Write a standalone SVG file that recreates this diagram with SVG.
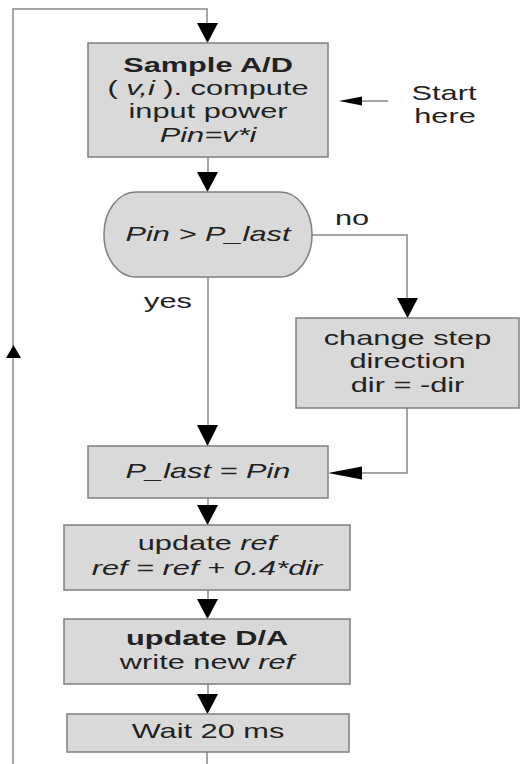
<svg xmlns="http://www.w3.org/2000/svg" width="520" height="764" viewBox="0 0 520 764">
<style>
.box{fill:#d9d9d9;stroke:#7f7f7f;stroke-width:1.5}
.ln{fill:none;stroke:#a6a6a6;stroke-width:2}
.ah{fill:#000}
text{font-family:"Liberation Sans",Arial,sans-serif;font-size:20.5px;fill:#222;text-anchor:middle}
.b{font-weight:bold}
.i{font-style:italic}
</style>
<rect width="520" height="764" fill="#fff"/>
<g id="connectors">
<path class="ln" d="M207,752 V764"/>
<path class="ln" d="M13,764 V9 H207 V26"/>
<path class="ah" d="M197,23 L218,23 L207.5,43 Z"/>
<path class="ah" d="M6,358 L21,358 L13.5,345 Z"/>
<path class="ln" d="M208,157 V175"/>
<path class="ah" d="M197,172 L218,172 L207.5,192 Z"/>
<path class="ln" d="M388,101 H356"/>
<path class="ah" d="M339,101 L362,96.5 L362,105.5 Z"/>
<path class="ln" d="M312,235 H407 V300"/>
<path class="ah" d="M397,298 L418,298 L407.5,318 Z"/>
<path class="ln" d="M208,277 V428"/>
<path class="ah" d="M197,425 L218,425 L207.5,446 Z"/>
<path class="ln" d="M407,408 V473 H358"/>
<path class="ah" d="M328,473 L362,466.5 L362,479.5 Z"/>
<path class="ln" d="M208,498 V508"/>
<path class="ah" d="M197,505 L218,505 L207.5,525 Z"/>
<path class="ln" d="M208,590 V602"/>
<path class="ah" d="M197,599 L218,599 L207.5,619 Z"/>
<path class="ln" d="M208,684 V697"/>
<path class="ah" d="M197,694 L218,694 L207.5,714 Z"/>
</g>
<g id="sample">
<rect class="box" x="88" y="43" width="240" height="114"/>
<text class="b" transform="translate(208,72) scale(1.5,1)">Sample A/D</text>
<text transform="translate(208,95) scale(1.5,1)">( <tspan class="i">v,i</tspan> ). compute</text>
<text transform="translate(208,118) scale(1.5,1)">input power</text>
<text class="i" transform="translate(208,142) scale(1.5,1)">Pin=v*i</text>
</g>
<g id="start">
<text transform="translate(444,100) scale(1.5,1)">Start</text>
<text transform="translate(445,123) scale(1.5,1)">here</text>
</g>
<g id="decision">
<rect class="box" x="104" y="192" width="208" height="85" rx="32" ry="42"/>
<text class="i" transform="translate(208,241) scale(1.5,1)">Pin &gt; P_last</text>
</g>
<g id="labels">
<text transform="translate(352,225) scale(1.5,1)">no</text>
<text transform="translate(168,308) scale(1.5,1)">yes</text>
</g>
<g id="change">
<rect class="box" x="296" y="318" width="223" height="90"/>
<text transform="translate(407.5,345) scale(1.5,1)">change step</text>
<text transform="translate(407.5,368) scale(1.5,1)">direction</text>
<text transform="translate(407.5,392) scale(1.5,1)">dir = -dir</text>
</g>
<g id="plast">
<rect class="box" x="88" y="446" width="240" height="52"/>
<text class="i" transform="translate(208,478) scale(1.5,1)">P_last = Pin</text>
</g>
<g id="updref">
<rect class="box" x="64" y="525" width="286" height="65"/>
<text transform="translate(207,550) scale(1.5,1)">update <tspan class="i">ref</tspan></text>
<text class="i" transform="translate(207,575) scale(1.5,1)">ref = ref + 0.4*dir</text>
</g>
<g id="updda">
<rect class="box" x="64" y="619" width="286" height="65"/>
<text class="b" transform="translate(207,645) scale(1.5,1)">update D/A</text>
<text transform="translate(207,669) scale(1.5,1)">write new <tspan class="i">ref</tspan></text>
</g>
<g id="wait">
<rect class="box" x="67" y="714" width="282" height="38"/>
<text transform="translate(208,738) scale(1.5,1)">Wait 20 ms</text>
</g>
</svg>
